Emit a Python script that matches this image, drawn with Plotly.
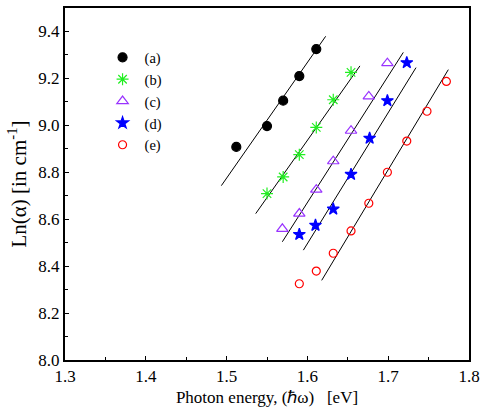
import plotly.graph_objects as go

labels = ["(a)", "(b)", "(c)", "(d)", "(e)"]

a_x = [1.512, 1.550, 1.570, 1.590, 1.611]
a_y = [8.908, 8.997, 9.105, 9.210, 9.325]
b_x = [1.550, 1.570, 1.590, 1.611, 1.632, 1.654]
b_y = [8.709, 8.780, 8.875, 8.991, 9.109, 9.226]
c_x = [1.569, 1.590, 1.611, 1.632, 1.654, 1.676, 1.699]
c_y = [8.559, 8.624, 8.726, 8.847, 8.977, 9.123, 9.265]
d_x = [1.590, 1.610, 1.632, 1.654, 1.677, 1.699, 1.723]
d_y = [8.535, 8.574, 8.643, 8.791, 8.945, 9.105, 9.267]
e_x = [1.590, 1.611, 1.632, 1.654, 1.676, 1.699, 1.723, 1.748, 1.772]
e_y = [8.325, 8.379, 8.455, 8.550, 8.668, 8.800, 8.933, 9.060, 9.187]

# linear fits: y = slope*x + intercept, drawn between x_start and x_end
fit_slope = [4.93, 4.88, 5.39, 5.58, 5.73]
fit_intercept = [1.380, 1.128, 0.047, -0.432, -0.930]
fit_x_start = [1.4935, 1.536, 1.569, 1.595, 1.6177]
fit_x_end = [1.6226, 1.665, 1.7187, 1.7344, 1.7744]

xs = [a_x, b_x, c_x, d_x, e_x]
ys = [a_y, b_y, c_y, d_y, e_y]
colors = ["black", "#22ee22", "#9933ff", "#0000ff", "#ff0000"]
symbols = ["circle", "asterisk-open", "triangle-up-open", "star", "circle-open"]
sizes = [9, 10, 10, 9, 8]

FONT = "Liberation Serif"
fig = go.Figure()

for i in range(5):
    x0, x1 = fit_x_start[i], fit_x_end[i]
    fig.add_trace(go.Scatter(
        x=[x0, x1],
        y=[fit_slope[i] * x0 + fit_intercept[i], fit_slope[i] * x1 + fit_intercept[i]],
        mode="lines", line=dict(color="black", width=1), showlegend=False,
        hoverinfo="skip"))

for i in range(5):
    fig.add_trace(go.Scatter(
        x=xs[i], y=ys[i], mode="markers", name=labels[i],
        marker=dict(color=colors[i], symbol=symbols[i], size=sizes[i],
                    line=dict(color=colors[i], width=1.2))))

fig.update_layout(
    width=480, height=407,
    margin=dict(l=65, r=11, t=8, b=47),
    paper_bgcolor="white", plot_bgcolor="white",
    font=dict(family=FONT, size=16, color="black"),
    showlegend=True,
    legend=dict(x=0.088, y=0.905, xanchor="left", yanchor="top",
                bgcolor="rgba(0,0,0,0)", font=dict(family=FONT, size=14.5),
                tracegroupgap=0, itemwidth=34),
    xaxis=dict(range=[1.3, 1.8], dtick=0.1, tick0=1.3, tickformat=".1f",
               showgrid=False, zeroline=False, showline=True, linecolor="black",
               linewidth=2, mirror=True, ticks="inside", ticklen=4, tickcolor="black",
               minor=dict(dtick=0.05, ticks="inside", ticklen=3, tickcolor="black"),
               tickfont=dict(family=FONT, size=17), automargin=False,
               title=dict(text="Photon energy, (\u210f\u03c9)\u00a0\u00a0\u00a0[eV]",
                          font=dict(family=FONT, size=17), standoff=8)),
    yaxis=dict(range=[8.0, 9.5], dtick=0.2, tick0=8.0, tickformat=".1f",
               showgrid=False, zeroline=False, showline=True, linecolor="black",
               linewidth=2, mirror=True, ticks="inside", ticklen=4, tickcolor="black",
               minor=dict(dtick=0.1, ticks="inside", ticklen=3, tickcolor="black"),
               tickfont=dict(family=FONT, size=17), automargin=False,
               title=dict(text="Ln(\u03b1) [in cm<sup>-1</sup>]",
                          font=dict(family=FONT, size=21), standoff=6)),
)

fig.write_html("out.html")
